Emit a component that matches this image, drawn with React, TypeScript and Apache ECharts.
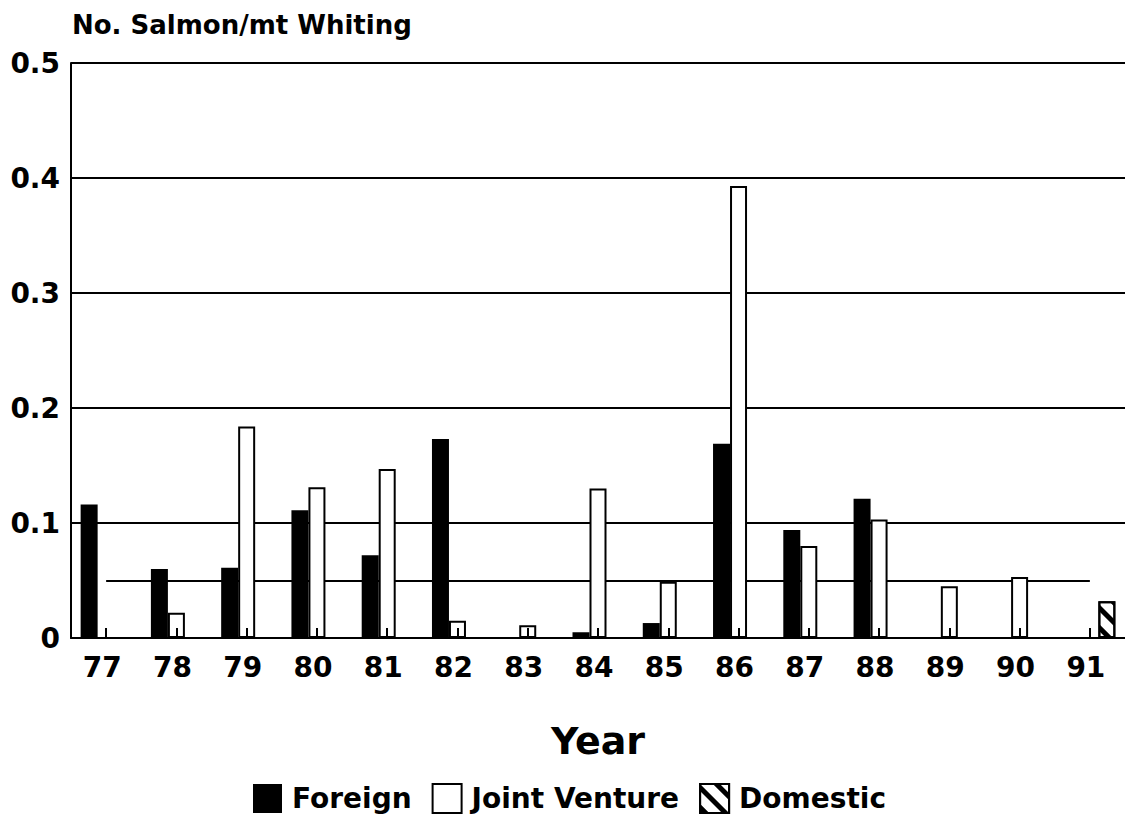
import React, { useEffect, useRef } from "react";
import * as echarts from "echarts";

const years = ["77", "78", "79", "80", "81", "82", "83", "84", "85", "86", "87", "88", "89", "90", "91"];
const foreign = [0.116, 0.06, 0.061, 0.111, 0.072, 0.173, null, 0.005, 0.013, 0.169, 0.094, 0.121, null, null, null];
const jointVenture = [null, 0.022, 0.184, 0.131, 0.147, 0.015, 0.011, 0.13, 0.049, 0.393, 0.08, 0.103, 0.045, 0.053, null];
const domestic = [null, null, null, null, null, null, null, null, null, null, null, null, null, null, 0.032];
const yTicks = [0, 0.1, 0.2, 0.3, 0.4, 0.5];
const referenceLevel = 0.05;

const FONT = "DejaVu Sans";

export default function App() {
  const ref = useRef<HTMLDivElement>(null);
  useEffect(() => {
    if (!ref.current) return;
    const chart = echarts.init(ref.current, null, { renderer: "svg" });
    chart.setOption({
      animation: false,
      backgroundColor: "#ffffff",
      grid: { left: 71, right: -3, top: 63, bottom: 186, containLabel: false },
      legend: {
        left: 248,
        top: 778,
        itemWidth: 29,
        itemHeight: 29,
        itemGap: 20,
        icon: "rect",
        textStyle: { fontFamily: FONT, fontWeight: "bold", fontSize: 28, color: "#000", padding: [0, 0, 0, 5] },
        data: ["Foreign", "Joint Venture", "Domestic"],
      },
      graphic: [
        {
          type: "text",
          left: 72,
          top: 12,
          style: { text: "No. Salmon/mt Whiting", fontFamily: FONT, fontWeight: "bold", fontSize: 26, fill: "#000" },
        },
      ],
      xAxis: {
        type: "category",
        data: years,
        z: 5,
        name: "Year",
        nameLocation: "middle",
        nameGap: 84,
        nameTextStyle: { fontFamily: FONT, fontWeight: "bold", fontSize: 38, color: "#000" },
        axisLine: { lineStyle: { color: "#000", width: 2 } },
        axisTick: { show: true, inside: true, alignWithLabel: true, length: 10, lineStyle: { color: "#000", width: 2 } },
        axisLabel: { fontFamily: FONT, fontWeight: "bold", fontSize: 28, color: "#000", margin: 15, padding: [0, 8, 0, 0] },
      },
      yAxis: {
        type: "value",
        min: 0,
        max: 0.5,
        interval: 0.1,
        axisLine: { show: true, lineStyle: { color: "#000", width: 2 } },
        axisTick: { show: false },
        splitLine: { show: true, lineStyle: { color: "#000", width: 2 } },
        axisLabel: {
          fontFamily: FONT,
          fontWeight: "bold",
          fontSize: 28,
          color: "#000",
          margin: 11,
          formatter: (v: number) => {
            const t = yTicks.find((x) => Math.abs(x - v) < 1e-9);
            return t === undefined ? "" : t === 0 ? "0" : t.toFixed(1);
          },
        },
      },
      series: [
        {
          name: "Foreign",
          type: "bar",
          data: foreign,
          barWidth: 17,
          barGap: "0%",
          itemStyle: { color: "#000", borderColor: "#000", borderWidth: 0 },
        },
        {
          name: "Joint Venture",
          type: "bar",
          data: jointVenture,
          barWidth: 17,
          barGap: "0%",
          itemStyle: { color: "#fff", borderColor: "#000", borderWidth: 2 },
          markLine: {
            silent: true,
            z: 1,
            symbol: ["none", "none"],
            label: { show: false },
            lineStyle: { color: "#000", width: 2, type: "solid" },
            data: [[{ coord: [years[0], referenceLevel] }, { coord: [years[years.length - 1], referenceLevel] }]],
          },
        },
        {
          name: "Domestic",
          type: "bar",
          data: domestic,
          barWidth: 17,
          barGap: "0%",
          itemStyle: {
            color: "#fff",
            borderColor: "#000",
            borderWidth: 2,
            decal: {
              symbol: "rect",
              symbolSize: 1,
              dashArrayX: [1, 0],
              dashArrayY: [5, 9],
              rotation: Math.PI / 4,
              color: "#000",
              backgroundColor: "#fff",
            },
          },
        },
      ],
    });
    return () => chart.dispose();
  }, []);
  return <div ref={ref} style={{ width: 1125, height: 824, position: "absolute", left: 0, top: 0 }} />;
}
